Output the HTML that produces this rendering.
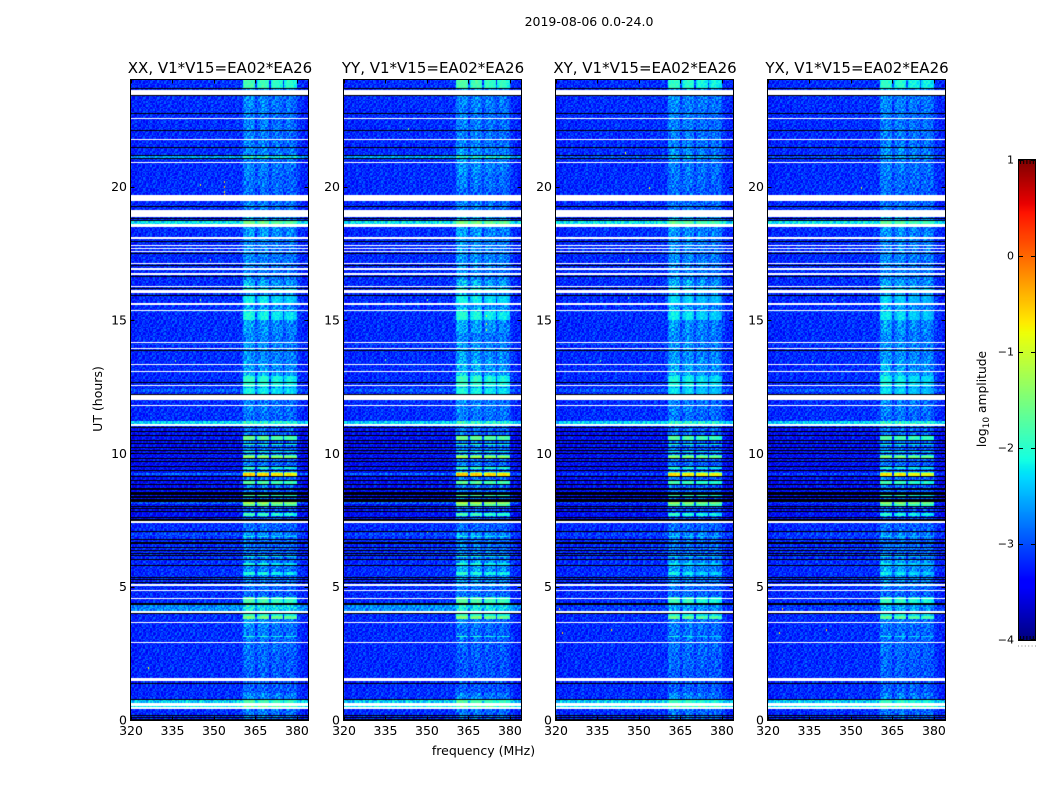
<!DOCTYPE html>
<html>
<head>
<meta charset="utf-8">
<title>2019-08-06 0.0-24.0</title>
<style>
html,body{margin:0;padding:0;background:#fff;}
#stage{position:relative;width:1050px;height:800px;overflow:hidden;background:#fff;font-family:"DejaVu Sans","Liberation Sans",sans-serif;}
canvas{position:absolute;display:block;}
svg{position:absolute;left:0;top:0;}
text{font-family:"DejaVu Sans","Liberation Sans",sans-serif;fill:#000;}
</style>
</head>
<body>
<div id="stage">
<canvas id="heat0" width="177" height="640" style="left:131px;top:80px"></canvas>
<canvas id="heat1" width="177" height="640" style="left:344px;top:80px"></canvas>
<canvas id="heat2" width="177" height="640" style="left:556px;top:80px"></canvas>
<canvas id="heat3" width="177" height="640" style="left:768px;top:80px"></canvas>
<canvas id="cbar" width="16" height="480" style="left:1019px;top:160px"></canvas>
<svg id="overlay" width="1050" height="800">
<text x="589" y="26" text-anchor="middle" font-size="12.5">2019-08-06 0.0-24.0</text>
<text x="483.5" y="755" text-anchor="middle" font-size="12.5">frequency (MHz)</text>
<text transform="translate(102,399) rotate(-90)" text-anchor="middle" font-size="12.5">UT (hours)</text>
<text transform="translate(986,399) rotate(-90)" text-anchor="middle" font-size="12.3">log<tspan font-size="9" dy="3">10</tspan><tspan dy="-3"> amplitude</tspan></text>
<line x1="1018" y1="646" x2="1036" y2="646" stroke="#888" stroke-width="1" stroke-dasharray="1 2.4"></line>
</svg>
</div>
<script>
// ---------- chart data ----------
const panelNames = ['XX', 'YY', 'XY', 'YX'];
const xTicks = [320, 335, 350, 365, 380];
const yTicks = [0, 5, 10, 15, 20];
const cbarTicks = [1, 0, -1, -2, -3, -4];

// flagged (white) time spans, hours
const flaggedSpans = [
[23.44,23.64],[22.53,22.59],[21.75,21.80],[20.89,20.94],[19.47,19.67],[18.86,19.14],[18.49,18.61],[18.05,18.10],
[17.77,17.82],[17.66,17.71],[17.55,17.60],[17.10,17.15],[16.89,16.94],[16.70,16.75],[16.24,16.29],[16.03,16.14],
[15.58,15.63],[15.34,15.39],[14.12,14.17],[13.91,13.96],[13.30,13.35],[13.05,13.10],[12.51,12.56],[12.00,12.19],
[11.78,11.83],[11.03,11.10],[7.40,7.45],[5.04,5.09],[4.84,4.89],[4.54,4.59],[4.02,4.07],[3.64,3.69],[2.89,2.94],
[1.46,1.56],[0.53,0.64],[0.43,0.49]
];
// zero-amplitude (black) integrations, hours
const blackRows = [
23.70,23.43,22.78,22.76,22.11,21.49,21.20,21.06,19.26,18.84,18.75,17.96,17.53,17.05,16.64,16.20,15.95,13.86,12.66,12.22,
10.99,10.84,10.69,10.50,10.39,10.24,10.13,10.01,9.83,9.71,9.53,9.38,9.15,9.00,8.85,8.70,8.66,8.55,8.50,8.47,8.40,8.35,8.30,8.25,8.20,8.03,7.95,7.84,7.61,
7.54,7.50,7.46,7.09,6.79,6.69,6.64,6.50,6.38,6.27,6.19,6.04,5.81,5.36,5.29,5.18,4.40,4.35,4.01,1.40,0.79,0.19,0.11,0.04
];
// broadband row brightening: start hour, end hour, then dex offset for each product
const rowSpans = [
[7.5,10.95,-0.18,-0.18,-0.18,-0.18],
[21.06,21.20,0.6,0.6,0.2,0.15],
[18.61,18.68,0.95,0.95,0.95,0.95],
[11.10,11.18,0.85,0.85,0.85,0.85],
[4.12,4.35,0.48,0.48,0.08,0.08],
[0.64,0.75,0.8,0.8,0.8,0.8],
[0.49,0.53,1.0,1.0,1.0,1.0],
[9.2,9.24,0.5,0.5,0.3,0.3],
[8.12,8.16,0.4,0.4,0.2,0.2],
[6.9,7.0,0.15,0.15,0.1,0.1],
[12.3,12.4,0.25,0.25,0.25,0.25],
[14.05,14.1,0.2,0.2,0.2,0.2],
[15.3,15.34,0.2,0.2,0.2,0.2]
];
// RFI band rows in 360-380 MHz: start hour, end hour, absolute log10 amplitude
const bandRows = [
[23.74,23.96,-1.8],[18.62,18.68,-1.5],[16.01,16.20,-1.95],[15.60,15.90,-2.15],[15.00,15.26,-2.05],
[12.53,12.86,-1.95],[12.22,12.45,-2.1],[10.54,10.65,-1.6],[10.30,10.34,-1.9],[10.05,10.09,-2.0],[9.86,9.94,-1.65],[9.83,9.86,-1.25],
[9.44,9.48,-1.9],[9.22,9.30,-1.5],[9.17,9.22,-0.5],[8.81,8.96,-1.7],[8.42,8.46,-1.8],[8.12,8.16,-1.2],[8.03,8.10,-1.6],
[7.67,7.71,-1.85],[6.85,6.89,-2.1],[6.60,6.63,-2.1],[6.10,6.14,-2.1],[5.81,5.89,-2.05],[5.46,5.52,-2.0],[4.43,4.58,-1.75],
[3.86,4.01,-1.95],[3.82,3.86,-1.45],[3.11,3.15,-2.0],[0.64,0.75,-1.75],[0,0.04,-1.85]
];
// extra dex applied to the band rows in each product
const bandRowShift = [0, 0.05, -0.12, -0.15];
// diffuse RFI band strength per half hour (dex above floor), hour 0 first
const bandXX = [.7,.9,.4,.4,.5,.6,.7,.9,1,.5,.7,.8,.6,.6,.5,.8,1,1,1,1,1,1,.6,.7,.9,1.3,1,.9,.8,1,1.2,.9,1.2,.7,.8,.8,1,1,.7,.5,.6,.7,.8,.7,.7,.7,.8,1.1];
const bandYY = [.6,.8,.3,.3,.35,.45,.55,.7,1,.6,1,1.1,.7,.7,.5,.8,1,1,1,1,1,1,.7,.8,1,1.5,1.2,1,.8,1.1,1.3,1.1,1.3,.8,.9,.9,1,1.1,.7,.5,.7,.9,.9,.7,.7,.7,.8,1.1];
const bandXY = [.6,.8,.4,.4,.5,.55,.6,.7,.9,.5,.8,1,.6,.6,.5,.7,.9,.9,.9,.9,.9,.9,.6,.7,.9,1.3,1.1,.9,.8,.9,1.1,1,1.1,.8,.8,.8,.9,1,.6,.5,.6,.7,.8,.7,.7,.7,.8,1.1];
const bandYX = [.55,.75,.4,.4,.5,.55,.6,.7,1,.5,.9,1.1,.6,.6,.5,.7,.9,.9,.9,.9,.9,.9,.6,.7,.9,1.4,1.1,.9,.8,1,1.1,1,1.1,.8,.8,.8,.9,1,.6,.5,.6,.7,.8,.7,.7,.7,.8,1.1];
const bandByPanel = [bandXX, bandYY, bandXY, bandYX];
// spectral shape of the RFI band, 0.5 MHz channels starting at 360 MHz
const bandProfile = [
.1,.7,.95,1,1,1,1,.95,.9,.8,
.2,.45,.7,.85,.9,.95,.95,.9,.8,.7,
.18,.5,.65,.75,.8,.8,.75,.7,.65,.6,
.18,.5,.65,.75,.75,.75,.7,.6,.55,.45,
.1,.08,.06,.05,.05,.05,.05,.05
];
// noise floor per 1 MHz channel
const channelFloor = [
-3.27,-3.25,-3.23,-3.21,-3.2,-3.2,-3.19,-3.19,-3.2,-3.19,-3.18,-3.19,-3.18,-3.17,-3.18,-3.17,
-3.18,-3.17,-3.17,-3.18,-3.17,-3.17,-3.16,-3.17,-3.16,-3.17,-3.16,-3.16,-3.17,-3.16,-3.15,-3.16,
-3.15,-3.16,-3.15,-3.15,-3.16,-3.15,-3.15,-3.15,-3.13,-3.11,-3.11,-3.11,-3.11,-3.11,-3.11,-3.11,
-3.11,-3.11,-3.11,-3.11,-3.11,-3.11,-3.11,-3.11,-3.11,-3.11,-3.11,-3.11,-3.17,-3.21,-3.25,-3.29
];
// isolated bright pixels: product index, MHz, hour, log10 amplitude
const hotPixels = [
[0,353.5,20.02,-0.4],[0,353.5,19.85,-0.6],[0,353.5,19.72,-0.5],[0,353.5,20.2,-1.0],[0,345,20.1,-1.0],[0,348.5,17.3,-1.0],[0,345,15.8,-1.2],[0,336,13.5,-1.6],[0,326,2.0,-0.8],
[1,350,15.8,-1.4],[1,335,13.55,-1.6],[1,371.2,15.2,-1.0],[1,371.2,14.9,-1.0],[1,371.2,14.65,-1.0],[1,350,7.1,-1.0],[1,343,22.2,-1.4],
[2,346,15.85,-1.6],[2,346,17.3,-1.4],[2,336,13.5,-1.7],[2,353.5,20.0,-0.8],[2,353.5,19.7,-0.6],[2,321,4.2,-0.6],[2,322,3.3,-0.7],[2,340,3.4,-0.6],[2,345,21.3,-0.8],
[3,336,13.5,-1.7],[3,325,4.2,-0.6],[3,324,3.3,-0.7],[3,341,3.4,-0.6],[3,353.5,20.0,-1.0],[3,343,15.8,-1.5]
];
// speckle, digits 0-9
const speckle = [
"3718264905172683940526178394061728359",
"6240971538460297158364029751846302971",
"1859326074915263087419526380174926358",
"7402618953076418295307164829503617428",
"2963850714286390517264938015726493081",
"5137496028351740962851370496285173049",
"8420175963608251739406281575930482617",
"0694328517924063185729406318572940631",
"4281759630417285936041728593604172859",
"9356041827563910482756391048275639104",
"2708615394270861539427086153942708615",
"6143972085614397208561439720856143972",
"3590284176359028417635902841763590284"
];

// ---------- scales ----------
const frameWidth = 177, frameHeight = 640, frameTop = 80;
function panelLeft(i) { return Math.round(131.2 + i * 212.4); }
function xScale(mhz) { return (mhz - 320) / 64 * frameWidth; }
function yScale(hour) { return frameHeight * (1 - hour / 24); }
function cbarScale(v) { return (1 - v) / 5 * 480; }
function jetPart(t, pts) {
  for (let i = 1; i < pts.length; i++) {
    if (t <= pts[i][0]) {
      const a = pts[i - 1], b = pts[i];
      return a[1] + (b[1] - a[1]) * (t - a[0]) / (b[0] - a[0]);
    }
  }
  return pts[pts.length - 1][1];
}
const jetR = [[0,0],[.35,0],[.66,1],[.89,1],[1,.5]];
const jetG = [[0,0],[.125,0],[.375,1],[.64,1],[.91,0],[1,0]];
const jetB = [[0,.5],[.11,1],[.34,1],[.65,0],[1,0]];
function colorFor(logAmp) {
  const t = Math.max(0, Math.min(1, (logAmp + 4) / 5));
  return 'rgb(' + Math.round(255 * jetPart(t, jetR)) + ',' + Math.round(255 * jetPart(t, jetG)) + ',' + Math.round(255 * jetPart(t, jetB)) + ')';
}

// ---------- heatmaps ----------
const nRows = 480, rowHours = 0.05, nChans = 128, chanMHz = 0.5;
function speckleAt(p, r, c) {
  const row = speckle[(r + p * 5) % speckle.length];
  const shift = Math.floor(r / speckle.length) * 11 + p * 7;
  return (row.charCodeAt((c + shift) % row.length) - 48 - 4.5);
}
function drawPanel(p) {
  const ctx = document.getElementById('heat' + p).getContext('2d');
  const band = bandByPanel[p];
  ctx.fillStyle = colorFor(-3.1);
  ctx.fillRect(0, 0, frameWidth, frameHeight);
  for (let r = 0; r < nRows; r++) {
    const hour = (r + 0.5) * rowHours;
    let offset = 0;
    rowSpans.forEach(function (s) { if (hour >= s[0] - 0.02 && hour <= s[1] + 0.02) offset += s[2 + p]; });
    let sharp = null;
    bandRows.forEach(function (s) { if (hour >= s[0] - 0.02 && hour <= s[1] + 0.02) sharp = s[2] + bandRowShift[p]; });
    const diffuse = band[Math.min(band.length - 1, Math.floor(hour * 2))];
    const y0 = Math.round(yScale(hour + rowHours / 2));
    const y1 = Math.round(yScale(hour - rowHours / 2));
    for (let c = 0; c < nChans; c++) {
      const mhz = 320 + (c + 0.5) * chanMHz;
      const noise = speckleAt(p, r, c);
      let v = channelFloor[Math.floor(mhz - 320)] + offset + noise * 0.075;
      if (mhz >= 360) {
        const prof = bandProfile[Math.min(bandProfile.length - 1, Math.floor((mhz - 360) / chanMHz))];
        v += diffuse * prof * 0.55 + noise * 0.015 * prof;
        if (sharp !== null && prof >= 0.45 && mhz < 380) {
          v = sharp + (prof - 1) * 0.7 + noise * 0.035;
        }
      }
      const x0 = Math.round(xScale(320 + c * chanMHz));
      const x1 = Math.round(xScale(320 + (c + 1) * chanMHz));
      ctx.fillStyle = colorFor(v);
      ctx.fillRect(x0, y0, x1 - x0, y1 - y0);
    }
  }
  hotPixels.forEach(function (h) {
    if (h[0] !== p) return;
    ctx.fillStyle = colorFor(h[3]);
    ctx.fillRect(Math.round(xScale(h[1])), Math.round(yScale(h[2])), 1, 2);
  });
  ctx.fillStyle = '#000';
  blackRows.forEach(function (h) {
    ctx.fillRect(0, Math.round(yScale(h)), frameWidth, 1);
  });
  ctx.fillStyle = '#fff';
  flaggedSpans.forEach(function (s) {
    const ya = Math.round(yScale(s[1]));
    const yb = Math.round(yScale(s[0]));
    ctx.fillRect(0, ya, frameWidth, Math.max(1, yb - ya));
  });
}
for (let p = 0; p < panelNames.length; p++) drawPanel(p);

// ---------- colorbar ----------
const cbarCtx = document.getElementById('cbar').getContext('2d');
for (let i = 0; i < 480; i++) {
  cbarCtx.fillStyle = colorFor(1 - (i + 0.5) / 480 * 5);
  cbarCtx.fillRect(0, i, 16, 1);
}

// ---------- axes ----------
const svgNS = 'http://www.w3.org/2000/svg';
const overlay = document.getElementById('overlay');
function addLine(x1, y1, x2, y2) {
  const el = document.createElementNS(svgNS, 'line');
  el.setAttribute('x1', x1);
  el.setAttribute('y1', y1);
  el.setAttribute('x2', x2);
  el.setAttribute('y2', y2);
  el.setAttribute('stroke', '#000');
  el.setAttribute('stroke-width', '1');
  overlay.appendChild(el);
  return el;
}
function addText(x, y, str, size, anchor) {
  const el = document.createElementNS(svgNS, 'text');
  el.setAttribute('x', x);
  el.setAttribute('y', y);
  el.setAttribute('font-size', size);
  el.setAttribute('text-anchor', anchor);
  el.textContent = str;
  overlay.appendChild(el);
  return el;
}
panelNames.forEach(function (name, p) {
  const left = panelLeft(p);
  const lx = left - 0.5, rx = left + frameWidth + 0.5;
  const ty = frameTop - 0.5, by = frameTop + frameHeight + 0.5;

  const frame = document.createElementNS(svgNS, 'rect');
  frame.setAttribute('x', lx);
  frame.setAttribute('y', ty);
  frame.setAttribute('width', rx - lx);
  frame.setAttribute('height', by - ty);
  frame.setAttribute('fill', 'none');
  frame.setAttribute('stroke', '#000');
  frame.setAttribute('stroke-width', '1');
  
  
  overlay.appendChild(frame);

  const title = addText(left + frameWidth / 2 + 0.5, 73, name + ', V1*V15=EA02*EA26', 15, 'middle');
  
  

  xTicks.forEach(function (t) {
    const x = Math.round(left + xScale(t)) + 0.5;
    const t1 = addLine(x, by, x, by - 4);
    
    
    const t2 = addLine(x, ty, x, ty + 4);
    
    
    const lab = addText(left + xScale(t), 735, String(t), 12.5, 'middle');
    
    
  });
  yTicks.forEach(function (t) {
    const y = Math.round(frameTop + yScale(t)) + 0.5;
    const t1 = addLine(lx, y, lx + 4, y);
    
    
    const t2 = addLine(rx, y, rx - 4, y);
    
    
    const lab = addText(left - 4, frameTop + yScale(t) + 4.5, String(t), 12.5, 'end');
    
    
  });
});

const cbarFrame = document.createElementNS(svgNS, 'rect');
cbarFrame.setAttribute('x', 1018.5);
cbarFrame.setAttribute('y', 159.5);
cbarFrame.setAttribute('width', 17);
cbarFrame.setAttribute('height', 481);
cbarFrame.setAttribute('fill', 'none');
cbarFrame.setAttribute('stroke', '#000');


overlay.appendChild(cbarFrame);

cbarTicks.forEach(function (t) {
  const y = 160 + cbarScale(t);
  const yy = Math.min(639.5, Math.round(y) + 0.5);
  const t1 = addLine(1019, yy, 1023, yy);
  
  
  const t2 = addLine(1035, yy, 1031, yy);
  
  
  const lab = addText(1014, y + 3.5, String(t).replace('-', '\u2212'), 11, 'end');
  
  
});
for (let i = 0; i < 5; i++) {
  const x = 1020.5 + i * 3.2;
  const a = addLine(x, 160, x, 164);
  
  
  const b = addLine(x, 640, x, 636);
  
  
}
</script>
</body>
</html>
